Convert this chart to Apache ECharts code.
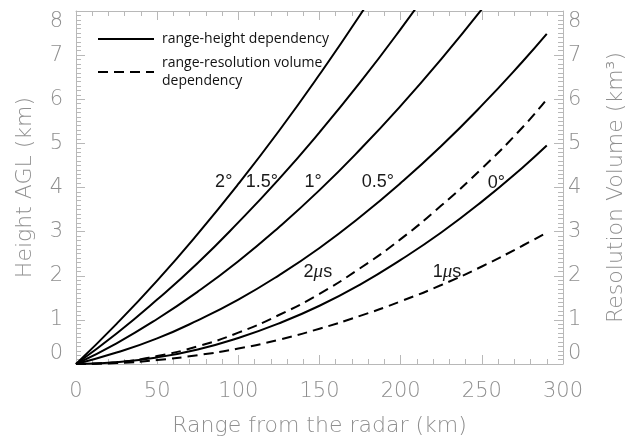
<!DOCTYPE html>
<html>
<head>
<meta charset="utf-8">
<script src="https://cdn.jsdelivr.net/npm/echarts@6/dist/echarts.min.js"></script>
<style>
  html, body { margin: 0; padding: 0; background: #fff; }
  #chart { width: 627px; height: 439px; }
</style>
</head>
<body>
<div id="chart"></div>
<script>
// Range from the radar (km) at which every curve is sampled
const rangeKm = [0, 25, 50, 75, 100, 125, 150, 175, 200, 225, 250, 275, 290];

// Beam-centre height above ground (km) for each elevation angle
const heightElev0  = [0, 0.04, 0.15, 0.33, 0.59, 0.92, 1.32, 1.80, 2.36, 2.98, 3.68, 4.45, 4.95];
const heightElev05 = [0, 0.26, 0.58, 0.99, 1.46, 2.01, 2.63, 3.33, 4.10, 4.94, 5.86, 6.85, 7.48];
const heightElev1  = [0, 0.47, 1.02, 1.64, 2.33, 3.10, 3.94, 4.86, 5.85, 6.91, 8.04, null, null];
const heightElev15 = [0, 0.69, 1.46, 2.29, 3.21, 4.19, 5.25, 6.38, 7.59, 8.87, null, null, null];
const heightElev2  = [0, 0.91, 1.89, 2.95, 4.08, 5.28, 6.56, 7.91, 9.34, null, null, null, null];

// Resolution volume (km^3) for the two pulse lengths
const volumePulse1 = [0, 0.02, 0.09, 0.20, 0.35, 0.55, 0.80, 1.09, 1.42, 1.79, 2.21, 2.68, 2.98];
const volumePulse2 = [0, 0.04, 0.18, 0.40, 0.71, 1.11, 1.59, 2.17, 2.83, 3.59, 4.43, 5.36, 6.00];

// Tick values shared by both vertical axes
const yTicks = [0, 1, 2, 3, 4, 5, 6, 7, 8];
const xTicks = [0, 50, 100, 150, 200, 250, 300];

const heightName = 'range-height dependency';
const volumeName = 'range-resolution volume\ndependency';

// Curve tags: text and anchor in (range km, value) units
const curveTags = {
  elev2:  { text: '2°',   at: [91, 4.12] },
  elev15: { text: '1.5°', at: [114.5, 4.12] },
  elev1:  { text: '1°',   at: [146, 4.12] },
  elev05: { text: '0.5°', at: [186, 4.12] },
  elev0:  { text: '0°',   at: [259, 4.1] },
  pulse2: { text: '2{mu|μ}s', at: [149, 2.09] },
  pulse1: { text: '1{mu|μ}s', at: [228.5, 2.09] }
};

const grey = '#8f8f8f';
const frame = '#b8b8b8';
const axisFont = 'DejaVu Sans';

function toPairs(values) {
  const out = [];
  rangeKm.forEach((r, i) => { if (values[i] !== null) out.push([r, values[i]]); });
  return out;
}

function tagOf(key) {
  const t = curveTags[key];
  return {
    symbol: 'circle',
    symbolSize: 0,
    silent: true,
    label: {
      show: true,
      position: 'inside',
      formatter: t.text,
      fontFamily: 'Liberation Sans',
      fontSize: 18,
      color: '#1a1a1a',
      rich: { mu: { fontFamily: 'Liberation Serif', fontStyle: 'italic', fontSize: 19, color: '#1a1a1a' } }
    },
    data: [{ coord: t.at }]
  };
}

function curve(name, values, key, dashed, yIndex) {
  return {
    type: 'line',
    name: name,
    yAxisIndex: yIndex,
    data: toPairs(values),
    smooth: true,
    symbol: 'none',
    clip: true,
    lineStyle: { color: '#000', width: 2, type: dashed ? [10, 6] : 'solid' },
    itemStyle: { color: '#000' },
    markPoint: tagOf(key),
    z: 3
  };
}

function xAxisDef(pos, withLabels) {
  return {
    type: 'value', position: pos, min: 0, max: 300, interval: 50,
    axisLine: { show: true, onZero: false, lineStyle: { color: frame, width: 1 } },
    axisTick: { show: true, inside: true, length: 9, lineStyle: { color: frame } },
    minorTick: { show: true, splitNumber: 5, length: 5, lineStyle: { color: frame } },
    splitLine: { show: false },
    axisLabel: {
      show: withLabels, color: grey, fontSize: 21, fontFamily: axisFont, fontWeight: 200, margin: 17,
      formatter: v => (xTicks.indexOf(v) >= 0 ? String(v) : '')
    },
    name: withLabels ? 'Range from the radar (km)' : '',
    nameLocation: 'middle',
    nameGap: 51,
    nameTextStyle: { color: grey, fontSize: 22, fontFamily: axisFont, fontWeight: 200 }
  };
}

function yAxisDef(pos, name, gap, margin) {
  return {
    type: 'value', position: pos, min: 0, max: 8, interval: 1,
    axisLine: { show: true, onZero: false, lineStyle: { color: frame, width: 1 } },
    axisTick: { show: true, inside: true, length: 9, lineStyle: { color: frame } },
    minorTick: { show: true, splitNumber: 10, length: 5, lineStyle: { color: frame } },
    splitLine: { show: false },
    axisLabel: {
      color: grey, fontSize: 21, fontFamily: axisFont, fontWeight: 200, margin: margin,
      verticalAlignMinLabel: 'bottom', verticalAlignMaxLabel: 'top',
      formatter: v => (yTicks.indexOf(v) >= 0 ? String(v) : '')
    },
    name: name,
    nameLocation: 'middle',
    nameRotate: 90,
    nameGap: gap,
    nameTextStyle: { color: grey, fontSize: 22, fontFamily: axisFont, fontWeight: 200 }
  };
}

const chart = echarts.init(document.getElementById('chart'), null, { renderer: 'canvas' });
chart.setOption({
  animation: false,
  backgroundColor: '#fff',
  grid: { left: 76, right: 64, top: 11, bottom: 75, containLabel: false, outerBoundsMode: 'none' },
  legend: {
    orient: 'vertical',
    left: 92,
    top: 25,
    itemWidth: 56,
    itemHeight: 14,
    itemGap: 6,
    data: [heightName, volumeName],
    itemStyle: { opacity: 0 },
    textStyle: { fontFamily: 'Open Sans', fontSize: 14, color: '#111', lineHeight: 18, padding: [0, 0, 0, 3] },
    selectedMode: false
  },
  xAxis: [xAxisDef('bottom', true), xAxisDef('top', false)],
  yAxis: [
    yAxisDef('left', 'Height AGL (km)', 40, 13),
    yAxisDef('right', 'Resolution Volume (km³)', 42, 5)
  ],
  series: [
    curve(heightName, heightElev2, 'elev2', false, 0),
    curve(heightName, heightElev15, 'elev15', false, 0),
    curve(heightName, heightElev1, 'elev1', false, 0),
    curve(heightName, heightElev05, 'elev05', false, 0),
    curve(heightName, heightElev0, 'elev0', false, 0),
    curve(volumeName, volumePulse2, 'pulse2', true, 1),
    curve(volumeName, volumePulse1, 'pulse1', true, 1)
  ]
});
</script>
</body>
</html>
